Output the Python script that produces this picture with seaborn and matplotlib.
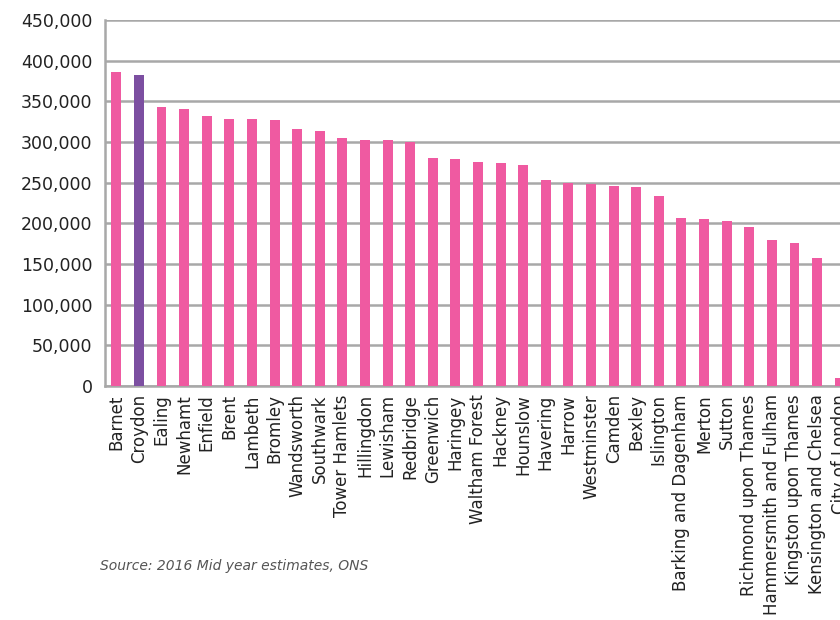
import matplotlib
matplotlib.use("Agg")
import matplotlib.pyplot as plt
import seaborn as sns
import pandas as pd
import numpy as np
from matplotlib.ticker import FuncFormatter, MultipleLocator

boroughs = [
    "Barnet", "Croydon", "Ealing", "Newhamt", "Enfield", "Brent", "Lambeth",
    "Bromley", "Wandsworth", "Southwark", "Tower Hamlets", "Hillingdon",
    "Lewisham", "Redbridge", "Greenwich", "Haringey", "Waltham Forest",
    "Hackney", "Hounslow", "Havering", "Harrow", "Westminster", "Camden",
    "Bexley", "Islington", "Barking and Dagenham", "Merton", "Sutton",
    "Richmond upon Thames", "Hammersmith and Fulham", "Kingston upon Thames",
    "Kensington and Chelsea", "City of London",
]
population = [
    386000, 382300, 343000, 340800, 331900, 328300, 328100,
    326900, 316100, 313300, 304900, 302500,
    302000, 299600, 280000, 278700, 275700,
    273800, 271400, 253000, 249000, 248000, 246300,
    244800, 233200, 206500, 205100, 202500,
    195700, 179700, 175500,
    157000, 9800,
]
highlight = "Croydon"

PINK = "#EF5AA1"
PURPLE = "#7C4FA1"
GRID = "#A8A8A8"
TEXT = "#222222"

df = pd.DataFrame({"borough": boroughs, "population": population})
palette = {b: (PURPLE if b == highlight else PINK) for b in boroughs}

sns.set_style("white")
plt.rcParams["font.family"] = ["DejaVu Sans"]

fig = plt.figure(figsize=(8.4, 6.2), dpi=100)
W, H = 840, 620
ax = fig.add_axes([105 / W, (H - 386) / H, 746 / W, 366 / H])

sns.barplot(data=df, x="borough", y="population", hue="borough",
            palette=palette, width=0.44, legend=False, ax=ax,
            saturation=1, linewidth=0, edgecolor="none", zorder=3)

ax.set_xlim(-0.5, len(boroughs) - 0.5)
ax.set_ylim(0, 450000)
ax.yaxis.set_major_locator(MultipleLocator(50000))
ax.yaxis.set_major_formatter(FuncFormatter(lambda v, p: f"{int(v):,}"))
ax.grid(axis="y", color=GRID, linewidth=1.8, zorder=0)
ax.set_axisbelow(True)

for s in ["top", "right"]:
    ax.spines[s].set_visible(False)
for s in ["left", "bottom"]:
    ax.spines[s].set_color(GRID)
    ax.spines[s].set_linewidth(1.8)

ax.set_xlabel("")
ax.set_ylabel("")

ax.tick_params(axis="y", length=5, width=1.4, color=GRID, labelsize=12.5,
               labelcolor=TEXT, pad=4)
ax.set_xticks(range(len(boroughs)))
ax.set_xticklabels(boroughs, rotation=90, fontsize=12, color=TEXT)
ax.tick_params(axis="x", which="major", length=0, pad=6)
ax.set_xticks(np.arange(-0.5, len(boroughs), 1), minor=True)
ax.tick_params(axis="x", which="minor", length=5, width=1.4, color=GRID)

fig.text(100 / W, 1 - 566 / H, "Source: 2016 Mid year estimates, ONS",
         fontsize=10, style="italic", color="#555555", va="center", ha="left")

fig.savefig("out.png", dpi=100)
